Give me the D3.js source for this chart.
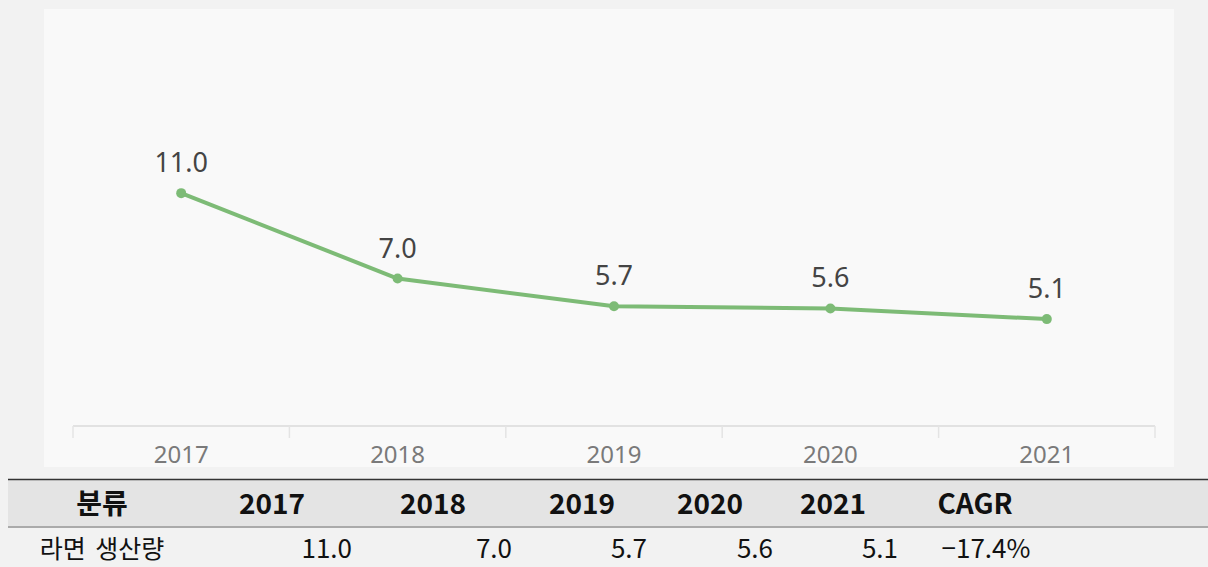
<!DOCTYPE html>
<html>
<head>
<meta charset="utf-8">
<script src="https://cdn.jsdelivr.net/npm/d3@7"></script>
<style>
  html, body { margin: 0; padding: 0; background: #f2f2f2; }
  svg { display: block; }
</style>
</head>
<body>
<svg id="chart" width="1208" height="567"></svg>
<script>
// Ramen production (2017–2021) and its compound annual growth rate
const years = ["2017", "2018", "2019", "2020", "2021"];
const production = [11.0, 7.0, 5.7, 5.6, 5.1];
const rowLabel = "라면 생산량";
const headerLabel = "분류";
const cagrLabel = "CAGR";
const cagrValue = "−17.4%";

const W = 1208, H = 567;
const svg = d3.select("#chart");

// light chart panel
svg.append("rect").attr("x", 44).attr("y", 9).attr("width", 1130).attr("height", 458)
  .attr("fill", "#f9f9f9");

const x = d3.scaleBand().domain(years).range([73, 1155]);
const y = d3.scaleLinear().domain([0, 20]).range([428, 1]);

// x axis with ticks on band boundaries
const axisG = svg.append("g").attr("transform", "translate(0,426)");
axisG.append("line").attr("x1", x.range()[0]).attr("x2", x.range()[1])
  .attr("stroke", "#e2e2e2").attr("stroke-width", 2);
const bounds = years.map(d => x(d)).concat([x.range()[1]]);
axisG.selectAll("line.tick").data(bounds).enter().append("line")
  .attr("class", "tick")
  .attr("x1", d => d).attr("x2", d => d).attr("y1", 0).attr("y2", 12)
  .attr("stroke", "#e4e4e4").attr("stroke-width", 1.5);
axisG.selectAll("text").data(years).enter().append("text")
  .attr("x", d => x(d) + x.bandwidth() / 2).attr("y", 37)
  .attr("text-anchor", "middle")
  .attr("font-family", "'Noto Sans', 'Open Sans', sans-serif")
  .attr("font-size", 24).attr("fill", "#7a7a7a")
  .text(d => d);

// production line
const pts = years.map((yr, i) => ({ yr, v: production[i] }));
const cx = d => x(d.yr) + x.bandwidth() / 2;
const line = d3.line().x(cx).y(d => y(d.v));
svg.append("path").datum(pts).attr("d", line)
  .attr("fill", "none").attr("stroke", "#7dbb76").attr("stroke-width", 4)
  .attr("stroke-linejoin", "round");
svg.selectAll("circle.pt").data(pts).enter().append("circle")
  .attr("class", "pt").attr("cx", cx).attr("cy", d => y(d.v)).attr("r", 5)
  .attr("fill", "#7dbb76");
svg.selectAll("text.val").data(pts).enter().append("text")
  .attr("class", "val").attr("x", cx).attr("y", d => y(d.v) - 21)
  .attr("text-anchor", "middle")
  .attr("font-family", "'Noto Sans', 'Open Sans', sans-serif")
  .attr("font-size", 27).attr("fill", "#444")
  .text(d => d.v.toFixed(1));

// summary table
const tableFont = "'Noto Sans CJK KR', 'Noto Sans', sans-serif";
svg.append("rect").attr("x", 8).attr("y", 479).attr("width", W - 8).attr("height", 48)
  .attr("fill", "#e4e4e4");
svg.append("line").attr("x1", 8).attr("x2", W).attr("y1", 479.5).attr("y2", 479.5)
  .attr("stroke", "#333").attr("stroke-width", 1.5);
svg.append("line").attr("x1", 8).attr("x2", W).attr("y1", 527).attr("y2", 527)
  .attr("stroke", "#aaa").attr("stroke-width", 2);

const headCenters = [102, 272, 433, 582, 710, 833, 975];
const headers = [headerLabel].concat(years, [cagrLabel]);
svg.selectAll("text.head").data(headers).enter().append("text")
  .attr("class", "head")
  .attr("x", (d, i) => headCenters[i]).attr("y", 514)
  .attr("text-anchor", "middle")
  .attr("font-family", tableFont).attr("font-weight", "bold")
  .attr("font-size", 28).attr("fill", "#111")
  .text(d => d);

const rowY = 558;
svg.append("text").attr("x", 102).attr("y", rowY).attr("text-anchor", "middle")
  .attr("font-family", tableFont).attr("font-size", 25).attr("fill", "#111")
  .attr("word-spacing", 4)
  .text(rowLabel);
const valRight = [352, 512, 647, 773, 898];
svg.selectAll("text.cell").data(production).enter().append("text")
  .attr("class", "cell")
  .attr("x", (d, i) => valRight[i]).attr("y", rowY)
  .attr("text-anchor", "end")
  .attr("font-family", tableFont).attr("font-size", 26).attr("fill", "#111")
  .text(d => d.toFixed(1));
svg.append("text").attr("x", 986).attr("y", rowY).attr("text-anchor", "middle")
  .attr("font-family", tableFont).attr("font-size", 26).attr("fill", "#111")
  .text(cagrValue);
</script>
</body>
</html>
